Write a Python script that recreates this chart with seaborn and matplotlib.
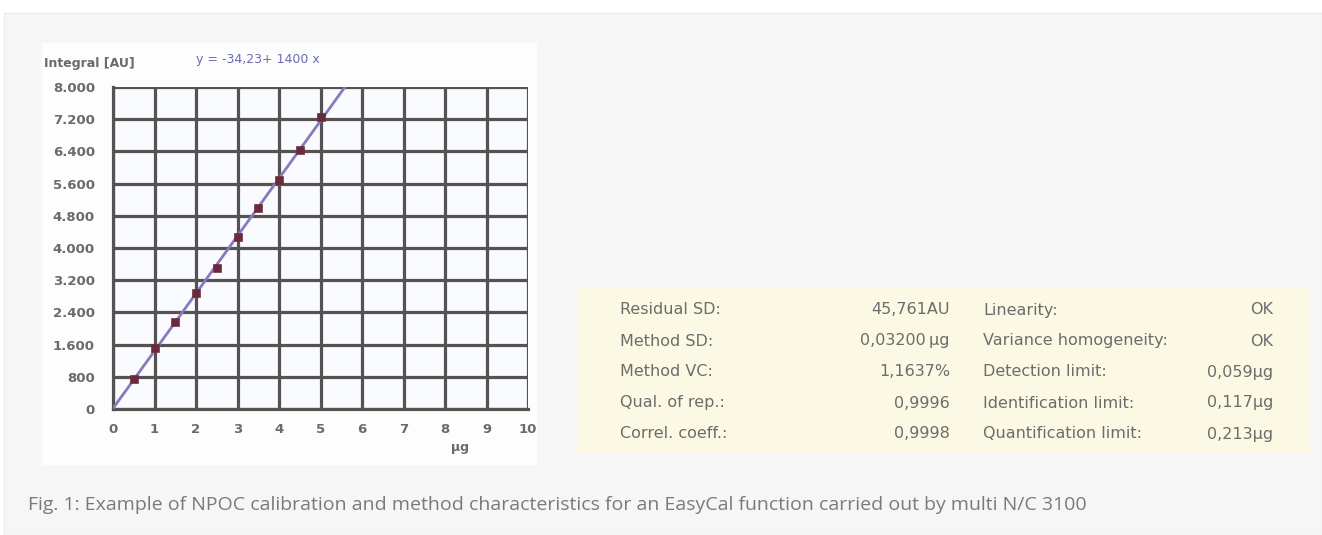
import matplotlib
matplotlib.use("Agg")
import matplotlib.pyplot as plt
import matplotlib.patches as mpatches
import numpy as np
import pandas as pd
import seaborn as sns

# ---------------- data ----------------
mass_ug = [0.5, 1.0, 1.5, 2.0, 2.5, 3.0, 3.5, 4.0, 4.5, 5.0]
integral_au = [740, 1508, 2169, 2874, 3495, 4280, 4985, 5688, 6434, 7261]
x_ticks = [0, 1, 2, 3, 4, 5, 6, 7, 8, 9, 10]
y_ticks = [0, 800, 1600, 2400, 3200, 4000, 4800, 5600, 6400, 7200, 8000]
y_tick_labels = ["0", "800", "1.600", "2.400", "3.200", "4.000", "4.800",
                 "5.600", "6.400", "7.200", "8.000"]
equation = "y = -34,23+ 1400 x"
y_label = "Integral [AU]"
x_label = "µg"

left_names = ["Residual SD:", "Method SD:", "Method VC:", "Qual. of rep.:", "Correl. coeff.:"]
left_values = ["45,761AU", "0,03200\u2009µg", "1,1637%", "0,9996", "0,9998"]
right_names = ["Linearity:", "Variance homogeneity:", "Detection limit:",
               "Identification limit:", "Quantification limit:"]
right_values = ["OK", "OK", "0,059µg", "0,117µg", "0,213µg"]

caption = ("Fig. 1: Example of NPOC calibration and method characteristics for an "
           "EasyCal function carried out by multi N/C 3100")

df = pd.DataFrame({"mass": mass_ug, "integral": integral_au})

# ---------------- figure ----------------
sns.set_theme(style="white")
plt.rcParams["font.family"] = ["DejaVu Sans"]

W, H = 1322, 535
fig = plt.figure(figsize=(W / 100, H / 100), dpi=100)
fig.patch.set_facecolor("white")


def fx(px):
    return px / W


def fy(py):
    return 1 - py / H


# outer light-grey panel
fig.add_artist(mpatches.Rectangle((fx(4), 0), fx(W - 4), fy(13), transform=fig.transFigure,
                                  facecolor="#f6f6f6", edgecolor="#ececec", lw=1, zorder=-3))
# screenshot background (white)
fig.add_artist(mpatches.Rectangle((fx(42), fy(465)), fx(537 - 42), fy(43) - fy(465),
                                  transform=fig.transFigure, facecolor="#fdfdfd",
                                  edgecolor="none", zorder=-2))
# yellow results table
fig.add_artist(mpatches.Rectangle((fx(577), fy(453)), fx(1309 - 577), fy(288) - fy(453),
                                  transform=fig.transFigure, facecolor="#fbf9e3",
                                  edgecolor="none", zorder=-2))

# ---------------- calibration axes ----------------
ax_l, ax_r, ax_t, ax_b = 113, 528, 87, 409
ax = fig.add_axes([fx(ax_l), fy(ax_b), fx(ax_r - ax_l), fy(ax_t) - fy(ax_b)])
ax.set_zorder(2)
ax.set_facecolor("#f9fbfe")
ax.set_xlim(0, 10)
ax.set_ylim(0, 8000)

grid_c = "#575252"
sns.regplot(data=df, x="mass", y="integral", ax=ax, scatter=False, ci=None,
            truncate=False, line_kws={"color": "#857bbd", "lw": 2.0, "zorder": 3})
sns.scatterplot(data=df, x="mass", y="integral", ax=ax, marker="s", s=32,
                color="#6b2a3a", edgecolor="#6b2a3a", zorder=4)

ax.set_xlim(0, 10)
ax.set_ylim(0, 8000)
ax.set_xticks(x_ticks)
ax.set_yticks(y_ticks)
ax.set_yticklabels(y_tick_labels)
ax.set_xlabel("")
ax.set_ylabel("")
ax.grid(True, color=grid_c, lw=2.3, zorder=1)
ax.set_axisbelow(True)
for s in ax.spines.values():
    s.set_visible(False)
ax.spines["left"].set_visible(True)
ax.spines["bottom"].set_visible(True)
ax.spines["left"].set_color(grid_c)
ax.spines["bottom"].set_color(grid_c)
ax.spines["left"].set_linewidth(2.3)
ax.spines["bottom"].set_linewidth(2.3)
ax.tick_params(axis="both", which="both", length=5, width=2.3, color=grid_c,
               labelsize=9.5, labelcolor="#6a6a6a", direction="out")
ax.tick_params(axis="y", pad=8)
ax.tick_params(axis="x", pad=5)
for t in ax.get_xticklabels() + ax.get_yticklabels():
    t.set_fontweight("bold")

fig.text(fx(44), fy(64), y_label, ha="left", va="center", fontsize=9,
         color="#6a6a6a", fontweight="bold")
fig.text(fx(196), fy(60), equation, ha="left", va="center", fontsize=9,
         color="#6b6bb5")
fig.text(fx(460), fy(447), x_label, ha="center", va="center", fontsize=9,
         color="#6a6a6a", fontweight="bold")

# ---------------- results table ----------------
row_y = [310, 341, 372, 403, 434]
tcol = "#6c6c6c"
tfs = 11.5
for i, yy in enumerate(row_y):
    fig.text(fx(620), fy(yy), left_names[i], ha="left", va="center", fontsize=tfs, color=tcol)
    fig.text(fx(950), fy(yy), left_values[i], ha="right", va="center", fontsize=tfs, color=tcol)
    fig.text(fx(983), fy(yy), right_names[i], ha="left", va="center", fontsize=tfs, color=tcol)
    fig.text(fx(1273), fy(yy), right_values[i], ha="right", va="center", fontsize=tfs, color=tcol)

# ---------------- caption ----------------
fig.text(fx(28), fy(505), caption, ha="left", va="center", fontsize=14,
         color="#7a7a7a", family=["Open Sans", "DejaVu Sans"])

fig.savefig("out.png", dpi=100)
